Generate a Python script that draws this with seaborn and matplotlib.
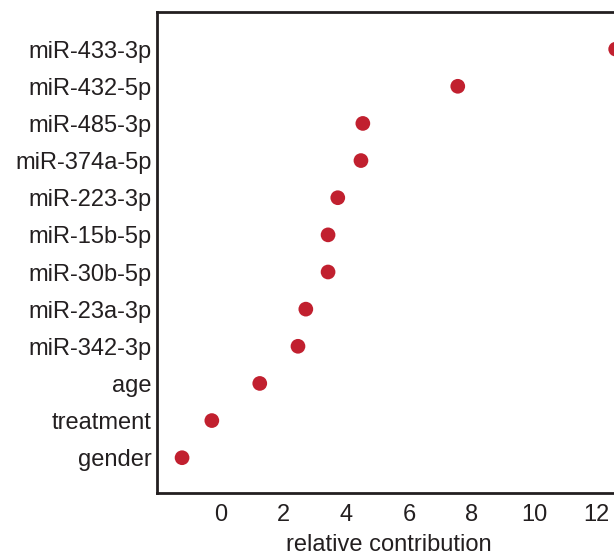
import matplotlib
matplotlib.use("Agg")
import matplotlib.pyplot as plt
import seaborn as sns
import pandas as pd

features = ["miR-433-3p", "miR-432-5p", "miR-485-3p", "miR-374a-5p", "miR-223-3p",
            "miR-15b-5p", "miR-30b-5p", "miR-23a-3p", "miR-342-3p", "age",
            "treatment", "gender"]
contribution = [12.6, 7.56, 4.53, 4.47, 3.73, 3.42, 3.42, 2.71, 2.46, 1.24, -0.29, -1.24]
x_ticks = [0, 2, 4, 6, 8, 10, 12]

df = pd.DataFrame({"feature": features, "contribution": contribution})

sns.set_style("white")
plt.rcParams["font.family"] = ["Liberation Sans", "DejaVu Sans"]

fig = plt.figure(figsize=(6.14, 5.57), dpi=100)
left, bottom, top = 157 / 614, 1 - 493 / 557, 1 - 12 / 557
xmin, xmax = -2.04, 12.75
px_per_unit = 31.33
width_px = (xmax - xmin) * px_per_unit
ax = fig.add_axes([left, bottom, width_px / 614, top - bottom])

sns.scatterplot(data=df, x="contribution", y="feature", ax=ax, color="#C1202F",
                s=112, edgecolor="none", clip_on=False, zorder=3)

ax.set_xlim(xmin, xmax)
ax.set_ylim(11.95, -1)
ax.set_xticks(x_ticks)
ax.set_xticklabels([str(t) for t in x_ticks])
ax.tick_params(axis="both", length=0, labelsize=17, colors="#231F20")
ax.tick_params(axis="y", pad=4)
ax.tick_params(axis="x", pad=8)
ax.set_xlabel("relative contribution", fontsize=17, color="#231F20", labelpad=6)
ax.set_ylabel("")
for sp in ax.spines.values():
    sp.set_color("#231F20")
    sp.set_linewidth(2)

fig.savefig("out.png", dpi=100)
